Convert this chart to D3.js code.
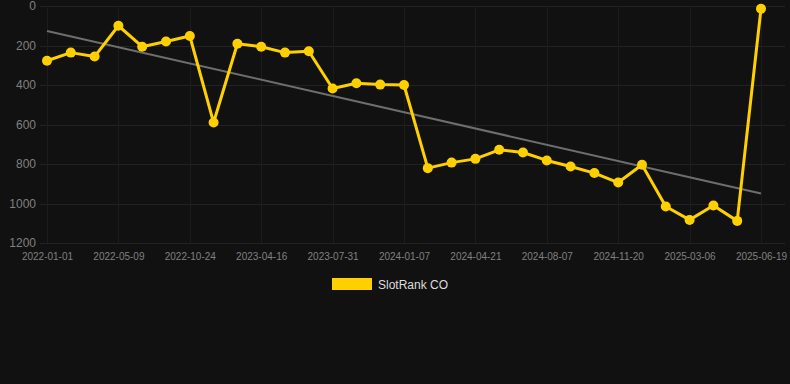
<!DOCTYPE html>
<html>
<head>
<meta charset="utf-8">
<script src="https://cdn.jsdelivr.net/npm/d3@7"></script>
<style>
  html, body { margin: 0; padding: 0; background: #111111; }
  svg { display: block; font-family: "Liberation Sans", Arial, sans-serif; }
</style>
</head>
<body>
<div id="chart"></div>
<script>
// categories (dates) and the SlotRank CO series
var dates = ["2022-01-01","2022-02-12","2022-03-26","2022-05-09","2022-06-25","2022-08-10",
             "2022-10-24","2022-12-20","2023-02-18","2023-04-16","2023-05-21","2023-06-25",
             "2023-07-31","2023-09-22","2023-11-15","2024-01-07","2024-02-11","2024-03-17",
             "2024-04-21","2024-05-27","2024-07-02","2024-08-07","2024-09-12","2024-10-16",
             "2024-11-20","2024-12-25","2025-01-29","2025-03-06","2025-04-10","2025-05-15",
             "2025-06-19"]
var ranks = [277,236,256,100,206,180,152,590,191,206,236,229,418,391,398,400,
             821,793,774,728,742,782,813,846,894,804,1015,1083,1010,1088,14]
var yTicks = [0,200,400,600,800,1000,1200]
var seriesName = "SlotRank CO"

var totalW = 790, totalH = 384
var margin = {top: 6, right: 5, bottom: 141, left: 40}
var width = totalW - margin.left - margin.right
var height = totalH - margin.top - margin.bottom

var svg = d3.select("#chart")
  .append("svg")
    .attr("width", totalW)
    .attr("height", totalH)

svg.append("rect")
  .attr("width", totalW)
  .attr("height", totalH)
  .attr("fill", "#111111")

var g = svg.append("g")
  .attr("transform", "translate(" + margin.left + "," + margin.top + ")")

// x is a point scale over categories
var x = d3.scalePoint()
  .domain(dates)
  .range([7, 721])

var y = d3.scaleLinear()
  .domain([0, 1200])
  .range([0, height])

var tickDates = dates.filter(function(d, i) { return i % 3 == 0 })

// grid
g.append("g")
  .selectAll("line")
  .data(yTicks)
  .enter()
  .append("line")
    .attr("x1", 0)
    .attr("x2", width)
    .attr("y1", function(d) { return Math.round(y(d)) + 0.5 })
    .attr("y2", function(d) { return Math.round(y(d)) + 0.5 })
    .attr("stroke", "#222222")
    .attr("stroke-width", 1)

g.append("g")
  .selectAll("line")
  .data(tickDates)
  .enter()
  .append("line")
    .attr("x1", function(d) { return Math.round(x(d)) + 0.5 })
    .attr("x2", function(d) { return Math.round(x(d)) + 0.5 })
    .attr("y1", 0)
    .attr("y2", height)
    .attr("stroke", "#1c1c1c")
    .attr("stroke-width", 1)

// axes
var yAxis = g.append("g")
  .call(d3.axisLeft(y).tickValues(yTicks).tickFormat(d3.format("d")).tickSize(0).tickPadding(4))
yAxis.select(".domain").remove()
yAxis.selectAll("text")
  .attr("fill", "#808080")
  .style("font-size", "12px")

var xAxis = g.append("g")
  .attr("transform", "translate(0," + height + ")")
  .call(d3.axisBottom(x).tickValues(tickDates).tickSize(0).tickPadding(10))
xAxis.select(".domain").remove()
xAxis.selectAll("text")
  .attr("fill", "#808080")
  .style("font-size", "10px")

// trend line (least squares on the series)
var n = ranks.length
var meanI = (n - 1) / 2
var meanV = d3.mean(ranks)
var num = d3.sum(ranks, function(v, i) { return (i - meanI) * (v - meanV) })
var den = d3.sum(ranks, function(v, i) { return (i - meanI) * (i - meanI) })
var slope = num / den
var trend = [0, n - 1].map(function(i) { return {d: dates[i], v: meanV + slope * (i - meanI)} })

g.append("path")
  .datum(trend)
  .attr("fill", "none")
  .attr("stroke", "#6e6e6e")
  .attr("stroke-width", 2)
  .attr("d", d3.line()
    .x(function(d) { return x(d.d) })
    .y(function(d) { return y(d.v) }))

// series line
var pts = dates.map(function(d, i) { return {d: d, v: ranks[i]} })

g.append("path")
  .datum(pts)
  .attr("fill", "none")
  .attr("stroke", "#ffd000")
  .attr("stroke-width", 3)
  .attr("stroke-linejoin", "round")
  .attr("d", d3.line()
    .x(function(d) { return x(d.d) })
    .y(function(d) { return y(d.v) }))

g.selectAll("circle")
  .data(pts)
  .enter()
  .append("circle")
    .attr("cx", function(d) { return x(d.d) })
    .attr("cy", function(d) { return y(d.v) })
    .attr("r", 5)
    .attr("fill", "#ffd000")

// legend
var legend = svg.append("g")
  .attr("transform", "translate(332,278)")
legend.append("rect")
  .attr("width", 40)
  .attr("height", 12)
  .attr("fill", "#ffd000")
legend.append("text")
  .attr("x", 46)
  .attr("y", 10.5)
  .attr("fill", "#dddddd")
  .style("font-size", "12px")
  .text(seriesName)
</script>
</body>
</html>
